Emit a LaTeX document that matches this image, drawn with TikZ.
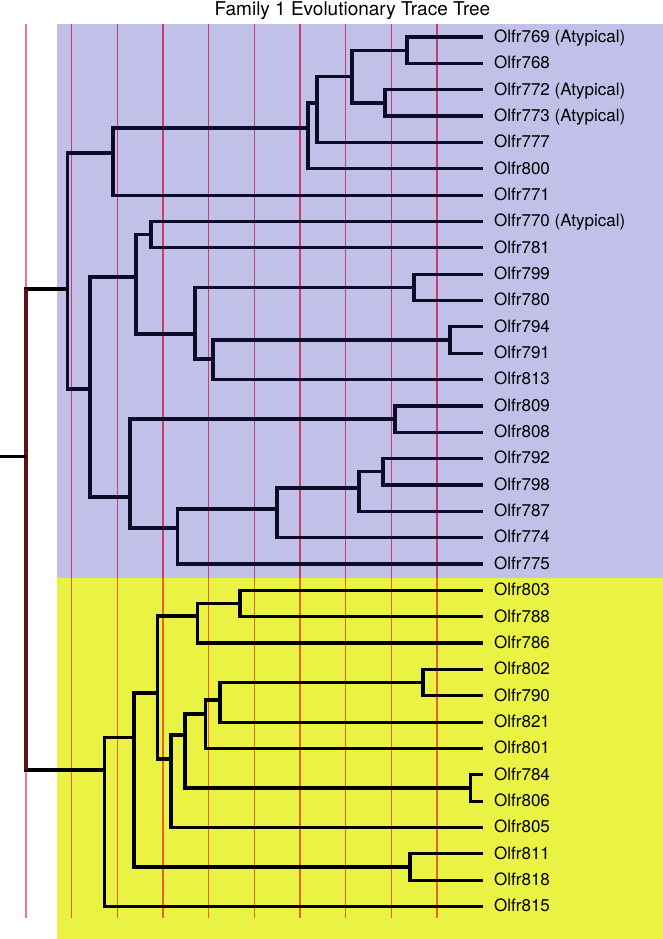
\documentclass[tikz,border=0pt]{standalone}
\usepackage{fontspec}
\setmainfont{TeX Gyre Heros}

\definecolor{familyA}{RGB}{192,192,232}
\definecolor{familyB}{RGB}{234,243,68}
\definecolor{treeink}{RGB}{12,12,40}
\definecolor{rootink}{RGB}{95,18,22}
\definecolor{levelW}{RGB}{238,120,130}
\definecolor{levelA}{RGB}{200,62,110}
\definecolor{levelB}{RGB}{232,100,40}

\tikzset{
  branch/.style={line width=3.2bp, draw=treeink},
  leaf/.style={anchor=west, inner xsep=11bp, inner ysep=0pt, text height=13bp, text depth=2.4bp, font=\fontsize{17bp}{20bp}\selectfont},
  gridline/.style={line width=1.5bp}
}

\begin{document}
\begin{tikzpicture}[x=1bp, y=-1bp]
    \useasboundingbox (0,0) rectangle (663,939);
    \fill[white] (0,0) rectangle (663,939);
    \fill[familyA] (57,24) rectangle (663,578);
    \fill[familyB] (57,578) rectangle (663,939);

    \node[font=\fontsize{19bp}{22bp}\selectfont, anchor=base] (title) at (352.5,15.5) {Family 1 Evolutionary Trace Tree};

    % trace levels
    \draw[gridline, draw=levelW] (26,24) -- (26,918);
    \foreach \k in {1,...,9} {
        \draw[gridline, draw=levelA] ({26+45.67*\k},24) -- ({26+45.67*\k},578);
        \draw[gridline, draw=levelB] ({26+45.67*\k},578) -- ({26+45.67*\k},918);
    }

    % leaves
    \foreach \nm/\lab [count=\i from 0] in {769/Olfr769 (Atypical), 768/Olfr768, 772/Olfr772 (Atypical), 773/Olfr773 (Atypical), 777/Olfr777, 800/Olfr800, 771/Olfr771, 770/Olfr770 (Atypical), 781/Olfr781, 799/Olfr799, 780/Olfr780, 794/Olfr794, 791/Olfr791, 813/Olfr813, 809/Olfr809, 808/Olfr808, 792/Olfr792, 798/Olfr798, 787/Olfr787, 774/Olfr774, 775/Olfr775, 803/Olfr803, 788/Olfr788, 786/Olfr786, 802/Olfr802, 790/Olfr790, 821/Olfr821, 801/Olfr801, 784/Olfr784, 806/Olfr806, 805/Olfr805, 811/Olfr811, 818/Olfr818, 815/Olfr815}
        \node[leaf] (o\nm) at (483,{37+26.35*\i}) {\lab};

    % inner nodes, first family
    \coordinate (A) at (407,50.2);
    \coordinate (B) at (385,102.9);
    \coordinate (C) at (352,76.7);
    \coordinate (D) at (317,103);
    \coordinate (E) at (308,128);
    \coordinate (F) at (113,153);
    \coordinate (H) at (151,234.6);
    \coordinate (L) at (414,287.3);
    \coordinate (N) at (450,340);
    \coordinate (M) at (213,359);
    \coordinate (K) at (195,334);
    \coordinate (I) at (136,277);
    \coordinate (P) at (395,419);
    \coordinate (T) at (383,471.8);
    \coordinate (S) at (359,488);
    \coordinate (R) at (277,509);
    \coordinate (Q) at (177.7,528);
    \coordinate (O) at (130,497);
    \coordinate (J) at (90,389);
    \coordinate (G) at (67.7,289);

    % inner nodes, second family
    \coordinate (Z) at (240,603.5);
    \coordinate (Y) at (197.7,616);
    \coordinate (AF) at (423,682.6);
    \coordinate (AE) at (220,700);
    \coordinate (AD) at (205.7,714);
    \coordinate (AC) at (470.4,788);
    \coordinate (AB) at (185,735);
    \coordinate (AA) at (171,759);
    \coordinate (X) at (157.3,693);
    \coordinate (W) at (410,867);
    \coordinate (V) at (134,737.7);
    \coordinate (U) at (104.3,770);

    \coordinate (root) at (26,456.7);
    \coordinate (stub) at (0,456.7);

    \foreach \p/\a/\b in {A/o769.west/o768.west, B/o772.west/o773.west, C/A/B, D/C/o777.west, E/D/o800.west, F/E/o771.west, H/o770.west/o781.west, L/o799.west/o780.west, N/o794.west/o791.west, M/N/o813.west, K/L/M, I/H/K, P/o809.west/o808.west, T/o792.west/o798.west, S/T/o787.west, R/S/o774.west, Q/R/o775.west, O/P/Q, J/I/O, G/F/J}
        \draw[branch] (\a) -- (\p |- \a) -- (\p |- \b) -- (\b);

    \foreach \p/\a/\b in {Z/o803.west/o788.west, Y/Z/o786.west, AF/o802.west/o790.west, AE/AF/o821.west, AD/AE/o801.west, AC/o784.west/o806.west, AB/AD/AC, AA/AB/o805.west, X/Y/AA, W/o811.west/o818.west, V/X/W, U/V/o815.west}
        \draw[branch, draw=black] (\a) -- (\p |- \a) -- (\p |- \b) -- (\b);

    \draw[branch, draw=black] (G) -- (root |- G) -- (root |- U) -- (U);
    \draw[line width=3.2bp, draw=rootink] (root |- G) -- (root |- U);
    \draw[branch, draw=black] (stub) -- (root);

\end{tikzpicture}
\end{document}
